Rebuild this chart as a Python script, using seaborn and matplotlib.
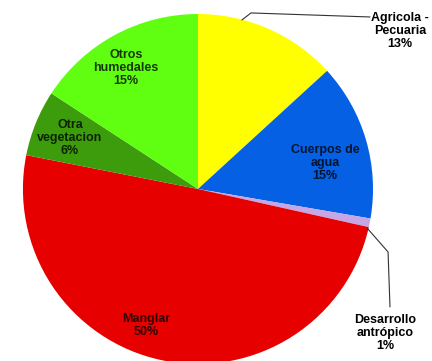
import matplotlib
matplotlib.use("Agg")
import matplotlib.pyplot as plt
import seaborn as sns

# cover classes, clockwise from 12 o'clock
categories = ["Agricola -\nPecuaria", "Cuerpos de\nagua", "Desarrollo\nantrópico",
              "Manglar", "Otra\nvegetacion", "Otros\nhumedales"]
shares = [13.2, 14.5, 0.8, 49.6, 6.1, 15.8]
pct_labels = ["13%", "15%", "1%", "50%", "6%", "15%"]
colors = ["#FFFF00", "#0560E3", "#C6A6E6", "#E60000", "#3C9C0C", "#60FF12"]

sns.set_theme(style="white")
plt.rcParams["font.family"] = ["Liberation Sans", "DejaVu Sans"]

fig = plt.figure(figsize=(4.32, 3.61), dpi=100)
ax = fig.add_axes([0, 0, 1, 1])

ax.pie(shares, colors=colors, startangle=90, counterclock=False,
       radius=1.0, wedgeprops={"linewidth": 0})

ax.set_xlim(-1.131, 1.337)
ax.set_ylim(-0.983, 1.08)
ax.set_aspect("equal", adjustable="datalim")
ax.axis("off")

# label positions (data units, pie radius = 1)
label_pos = [(1.154, 0.903), (0.726, 0.149), (1.069, -0.823),
             (-0.297, -0.78), (-0.731, 0.291), (-0.411, 0.691)]
inside = [False, True, False, True, True, True]

for name, pct, (x, y), ins in zip(categories, pct_labels, label_pos, inside):
    ax.text(x, y, f"{name}\n{pct}", ha="center", va="center",
            fontsize=9, fontweight="bold", color="black",
            alpha=0.78 if ins else 1.0, linespacing=1.15)

# leader lines for the outside labels
ax.plot([0.251, 0.303, 0.983], [0.966, 1.006, 0.983], color="#333333", lw=0.8)
ax.plot([0.966, 1.086, 1.097], [-0.223, -0.36, -0.674], color="#333333", lw=0.8)

fig.savefig("out.png", dpi=100)
